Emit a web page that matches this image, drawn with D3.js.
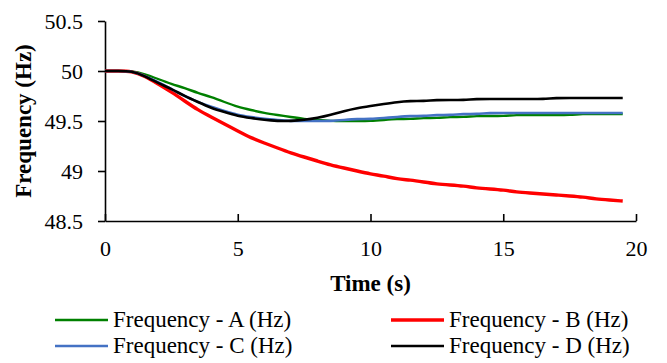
<!DOCTYPE html>
<html>
<head>
<meta charset="utf-8">
<script src="https://cdn.jsdelivr.net/npm/d3@7"></script>
<style>
  body { margin: 0; background: #fff; }
</style>
</head>
<body>
<div id="chart"></div>
<script>
// time steps (s)
const time = [0, 0.5, 1, 1.5, 2, 2.5, 3, 3.5, 4, 4.5, 5, 5.5, 6, 6.5, 7, 7.5, 8, 8.5, 9, 9.5,
  10, 10.5, 11, 11.5, 12, 12.5, 13, 13.5, 14, 14.5, 15, 15.5, 16, 16.5, 17, 17.5, 18, 18.5, 19, 19.5]

const freqA = [50, 50, 50, 49.97, 49.92, 49.87, 49.83, 49.78, 49.74, 49.69, 49.64, 49.61, 49.58, 49.56, 49.54, 49.52, 49.51, 49.50, 49.50, 49.50,
  49.50, 49.51, 49.52, 49.52, 49.53, 49.53, 49.54, 49.54, 49.55, 49.55, 49.55, 49.56, 49.56, 49.56, 49.56, 49.56, 49.57, 49.57, 49.57, 49.57]
const freqB = [50, 50, 50, 49.95, 49.87, 49.79, 49.70, 49.61, 49.54, 49.47, 49.40, 49.33, 49.28, 49.23, 49.18, 49.14, 49.10, 49.06, 49.03, 49.00,
  48.97, 48.95, 48.92, 48.91, 48.89, 48.87, 48.86, 48.85, 48.83, 48.82, 48.81, 48.79, 48.78, 48.77, 48.76, 48.75, 48.74, 48.72, 48.71, 48.70]
const freqC = [50, 50, 50, 49.95, 49.89, 49.82, 49.75, 49.69, 49.64, 49.60, 49.56, 49.54, 49.52, 49.51, 49.50, 49.50, 49.50, 49.50, 49.51, 49.52,
  49.52, 49.53, 49.54, 49.55, 49.55, 49.56, 49.56, 49.57, 49.57, 49.58, 49.58, 49.58, 49.58, 49.58, 49.58, 49.58, 49.58, 49.58, 49.58, 49.58]
const freqD = [50, 50, 50, 49.95, 49.88, 49.82, 49.75, 49.69, 49.63, 49.59, 49.55, 49.53, 49.51, 49.50, 49.50, 49.51, 49.53, 49.56, 49.60, 49.63,
  49.65, 49.67, 49.69, 49.70, 49.70, 49.71, 49.71, 49.71, 49.72, 49.72, 49.72, 49.72, 49.72, 49.72, 49.73, 49.73, 49.73, 49.73, 49.73, 49.73]

const xTicks = [0, 5, 10, 15, 20]
const yTicks = [48.5, 49, 49.5, 50, 50.5]

const seriesNames = ["Frequency - A (Hz)", "Frequency - B (Hz)", "Frequency - C (Hz)", "Frequency - D (Hz)"]
const seriesColors = ["#008000", "#ff0000", "#4472c4", "#000000"]
const seriesWidths = [2.4, 3.4, 2.6, 2.6]
const seriesValues = [freqA, freqB, freqC, freqD]

const width = 667, height = 363
const margin = { left: 105, right: 31, top: 21, bottom: 142 }
const serif = "'Liberation Serif', 'Times New Roman', serif"

const svg = d3.select("#chart").append("svg")
  .attr("width", width)
  .attr("height", height)

const x = d3.scaleLinear().domain([0, 20]).range([margin.left, width - margin.right])
const y = d3.scaleLinear().domain([48.5, 50.5]).range([height - margin.bottom, margin.top])

// axes
const xAxis = svg.append("g")
  .attr("transform", `translate(0,${y(48.5)})`)
  .call(d3.axisBottom(x).tickValues(xTicks).tickSize(-7).tickSizeOuter(0).tickFormat(d3.format("d")))
xAxis.selectAll("text").attr("dy", null).attr("y", 35)
  .style("font-family", serif).style("font-size", "22px").attr("fill", "#000")

const yAxis = svg.append("g")
  .attr("transform", `translate(${x(0)},0)`)
  .call(d3.axisLeft(y).tickValues(yTicks).tickSize(7).tickSizeOuter(0).tickFormat(d => d))
yAxis.selectAll("text").attr("x", -22).attr("dy", "0.34em")
  .style("font-family", serif).style("font-size", "22px").attr("fill", "#000")

svg.selectAll(".domain, .tick line").attr("stroke", "#000").attr("stroke-width", 1.6)

// axis titles
svg.append("text")
  .attr("x", x(10)).attr("y", 291)
  .attr("text-anchor", "middle")
  .style("font-family", serif).style("font-size", "23px").style("font-weight", "bold")
  .text("Time (s)")

svg.append("text")
  .attr("transform", `translate(31,${y(49.5)}) rotate(-90)`)
  .attr("text-anchor", "middle")
  .style("font-family", serif).style("font-size", "23px").style("font-weight", "bold")
  .text("Frequency (Hz)")

// lines
const line = d3.line()
  .x((d, i) => x(time[i]))
  .y(d => y(d))
  .curve(d3.curveBasis)

seriesValues.forEach((vals, k) => {
  svg.append("path")
    .datum(vals)
    .attr("fill", "none")
    .attr("stroke", seriesColors[k])
    .attr("stroke-width", seriesWidths[k])
    .attr("stroke-linejoin", "round")
    .attr("d", line)
})

// legend
const legendX = [55, 391]
const legendY = [320, 346]
seriesNames.forEach((name, k) => {
  const lx = legendX[k % 2], ly = legendY[Math.floor(k / 2)]
  svg.append("line")
    .attr("x1", lx).attr("x2", lx + 53)
    .attr("y1", ly).attr("y2", ly)
    .attr("stroke", seriesColors[k])
    .attr("stroke-width", seriesWidths[k])
  svg.append("text")
    .attr("x", lx + 58).attr("y", ly + 7)
    .style("font-family", serif).style("font-size", "23px")
    .text(name)
})
</script>
</body>
</html>
